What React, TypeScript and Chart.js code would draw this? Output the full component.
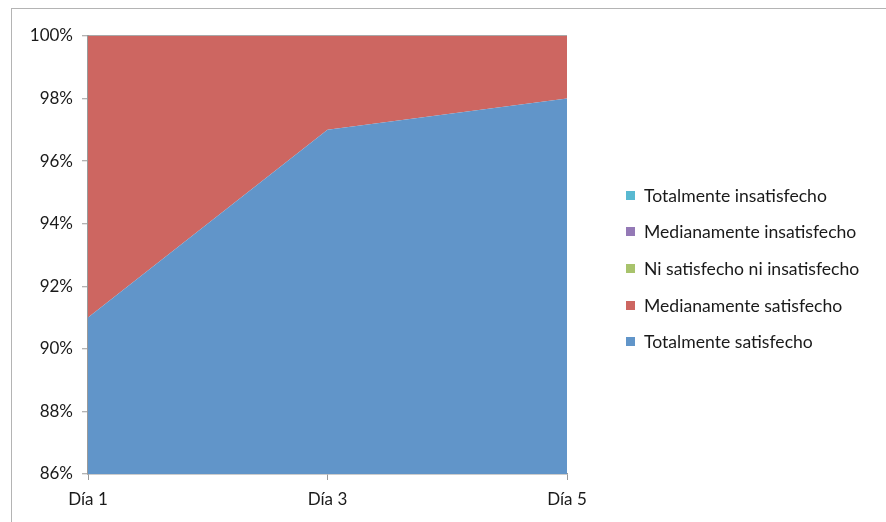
import React, { useEffect, useRef } from "react";
import { Chart, registerables } from "chart.js";

Chart.register(...registerables);

const categories = ["Día 1", "Día 3", "Día 5"];
const seriesNames = [
  "Totalmente satisfecho",
  "Medianamente satisfecho",
  "Ni satisfecho ni insatisfecho",
  "Medianamente insatisfecho",
  "Totalmente insatisfecho",
];
const totalmenteSatisfecho = [91, 97, 98];
const medianamenteSatisfecho = [9, 3, 2];
const niSatisfecho = [0, 0, 0];
const medianamenteInsatisfecho = [0, 0, 0];
const totalmenteInsatisfecho = [0, 0, 0];
const seriesColors = ["#6195C9", "#CD6661", "#A8C36C", "#9479B6", "#59B9D1"];
const yTicks = [86, 88, 90, 92, 94, 96, 98, 100];

const FONT = "Lato, 'Noto Sans', sans-serif";

export default function App() {
  const ref = useRef<HTMLCanvasElement | null>(null);

  useEffect(() => {
    if (!ref.current) return;
    const values = [
      totalmenteSatisfecho,
      medianamenteSatisfecho,
      niSatisfecho,
      medianamenteInsatisfecho,
      totalmenteInsatisfecho,
    ];
    const chart = new Chart(ref.current, {
      type: "line",
      data: {
        labels: categories,
        datasets: values.map((v, i) => ({
          label: seriesNames[i],
          data: v,
          backgroundColor: seriesColors[i],
          borderColor: seriesColors[i],
          borderWidth: 0,
          pointRadius: 0,
          fill: i === 0 ? "start" : "-1",
          tension: 0,
        })),
      },
      options: {
        animation: false,
        responsive: false,
        layout: { padding: { left: 0, top: 27, right: 319, bottom: 0 } },
        plugins: { legend: { display: false }, tooltip: { enabled: false } },
        scales: {
          x: {
            offset: false,
            afterFit: (s: any) => {
              s.height = 48;
            },
            grid: {
              drawOnChartArea: false,
              drawTicks: true,
              tickLength: 6,
              tickColor: "#9a9a9a",
              tickWidth: 1,
            },
            border: { color: "#9a9a9a", width: 1.5 },
            ticks: {
              color: "#1a1a1a",
              font: { family: FONT, size: 17 },
              padding: 9,
              maxRotation: 0,
            },
          },
          y: {
            stacked: true,
            min: 86,
            max: 100,
            afterFit: (s: any) => {
              s.width = 76;
            },
            afterBuildTicks: (s: any) => {
              s.ticks = yTicks.map((v) => ({ value: v }));
            },
            grid: {
              drawOnChartArea: true,
              color: (ctx: any) =>
                ctx.tick && ctx.tick.value === 100 ? "#a8a8a8" : "rgba(0,0,0,0)",
              lineWidth: 1.5,
              drawTicks: true,
              tickLength: 6,
              tickColor: "#9a9a9a",
              tickWidth: 1,
            },
            border: { color: "#9a9a9a", width: 2 },
            ticks: {
              color: "#1a1a1a",
              font: { family: FONT, size: 17 },
              padding: 9,
              callback: (v: any) => v + "%",
            },
          },
        },
      },
    });
    return () => chart.destroy();
  }, []);

  const legendOrder = [4, 3, 2, 1, 0];

  return (
    <div
      style={{
        position: "fixed",
        left: 11,
        top: 8,
        right: 0,
        bottom: 0,
        borderLeft: "1.5px solid #b4b4b4",
        borderTop: "1.5px solid #b4b4b4",
        overflow: "hidden",
        background: "#fff",
      }}
    >
      <canvas
        ref={ref}
        width={874}
        height={513}
        style={{ position: "absolute", left: 0, top: 0, width: 874, height: 513 }}
      />
      <div style={{ position: "absolute", left: 614, top: 168 }}>
        {legendOrder.map((i) => (
          <div
            key={i}
            style={{
              display: "flex",
              alignItems: "center",
              height: 36.6,
              fontFamily: FONT,
              fontSize: 17.6,
              color: "#1a1a1a",
              whiteSpace: "nowrap",
            }}
          >
            <span
              style={{
                display: "inline-block",
                width: 9,
                height: 9,
                background: seriesColors[i],
                marginRight: 9,
              }}
            />
            <span>{seriesNames[i]}</span>
          </div>
        ))}
      </div>
    </div>
  );
}
